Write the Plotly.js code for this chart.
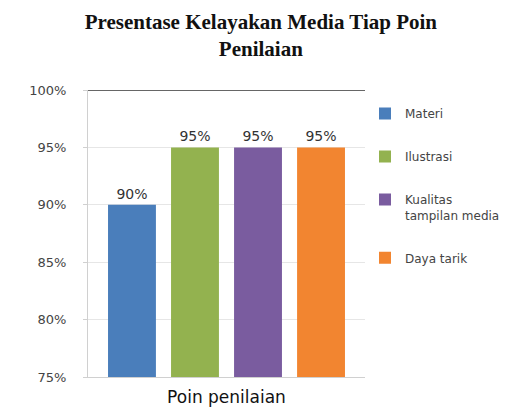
<!DOCTYPE html>
<html>
<head>
<meta charset="utf-8">
<script src="https://cdn.plot.ly/plotly-3.0.1.min.js"></script>
<style>html,body{margin:0;padding:0;background:#fff;}#chart{width:527px;height:416px;}</style>
</head>
<body>
<div id="chart"></div>
<script>
const category = ["Poin penilaian"];
const seriesNames = ["Materi", "Ilustrasi", "Kualitas<br>tampilan media", "Daya tarik"];
const seriesValues = [[0.90], [0.95], [0.95], [0.95]];
const seriesColors = ["#4a7ebb", "#93b24f", "#7a5c9f", "#f28530"];
const yTicks = [0.75, 0.80, 0.85, 0.90, 0.95, 1.00];

const traces = seriesNames.map((name, i) => ({
  type: "bar",
  name: name,
  x: category,
  y: seriesValues[i],
  marker: {color: seriesColors[i]},
  text: seriesValues[i].map(v => Math.round(v * 100) + "%"),
  textposition: "outside",
  cliponaxis: false,
  textfont: {family: "DejaVu Sans, sans-serif", size: 14, color: "#333"},
  legendgroup: "g" + i,
  hoverinfo: "none"
}));

const layout = {
  width: 527, height: 416,
  margin: {l: 88, r: 162, t: 90, b: 39},
  paper_bgcolor: "#fff", plot_bgcolor: "#fff",
  title: {
    text: "<b>Presentase Kelayakan Media Tiap Poin<br>Penilaian</b>",
    font: {family: "Liberation Serif, serif", size: 21, color: "#111"},
    x: 0.495, xanchor: "center", y: 0.93, yanchor: "top"
  },
  barmode: "group",
  bargap: 0.09,
  bargroupgap: 0.24,
  xaxis: {
    showticklabels: false,
    showline: true, linecolor: "#d0d0d0",
    ticks: "",
    title: {text: "Poin penilaian", font: {family: "DejaVu Sans, sans-serif", size: 17, color: "#111"}, standoff: 14}
  },
  yaxis: {
    range: [0.75, 1.0],
    tickvals: yTicks,
    tickformat: ".0%",
    showgrid: true, gridcolor: "#e6e6e6",
    showline: true, linecolor: "#d0d0d0",
    ticks: "outside", ticklen: 4, tickcolor: "#d0d0d0",
    ticklabelstandoff: 14,
    tickfont: {family: "DejaVu Sans, sans-serif", size: 13, color: "#444"},
    zeroline: false
  },
  shapes: [{type: "line", xref: "paper", yref: "y", x0: 0, x1: 1, y0: 1.0, y1: 1.0, line: {color: "#333", width: 1.5}}],
  showlegend: true,
  legend: {
    x: 1.0, xanchor: "left", y: 0.968, yanchor: "top",
    font: {family: "DejaVu Sans, sans-serif", size: 12, color: "#444"},
    tracegroupgap: 24,
    traceorder: "grouped",
    valign: "top",
    itemwidth: 30
  }
};

Plotly.newPlot("chart", traces, layout, {displayModeBar: false, staticPlot: true});
</script>
</body>
</html>
